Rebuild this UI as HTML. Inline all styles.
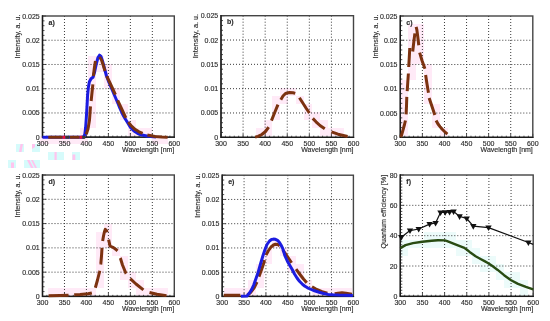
<!DOCTYPE html><html><head><meta charset="utf-8"><style>html,body{margin:0;padding:0;background:#fff;}svg{display:block;will-change:transform;filter:blur(0.35px);} text{fill:#2e2e2e;stroke:#2e2e2e;stroke-width:0.15px;}</style></head><body>
<svg width="550" height="321" viewBox="0 0 550 321" font-family='"Liberation Sans", sans-serif' font-size="7" fill="#222">
<rect width="550" height="321" fill="#fff"/>
<path d="M40 136h8v8h-8zM48 136h8v8h-8zM48 288h8v8h-8zM56 136h8v8h-8zM56 288h8v8h-8zM64 136h8v8h-8zM64 288h8v8h-8zM72 136h8v8h-8zM72 288h8v8h-8zM80 128h8v8h-8zM80 136h8v8h-8zM80 288h8v8h-8zM88 56h8v8h-8zM88 64h8v8h-8zM88 72h8v8h-8zM88 80h8v8h-8zM88 88h8v8h-8zM88 96h8v8h-8zM88 104h8v8h-8zM88 112h8v8h-8zM88 120h8v8h-8zM88 288h8v8h-8zM96 56h8v8h-8zM96 64h8v8h-8zM96 232h8v8h-8zM96 240h8v8h-8zM96 248h8v8h-8zM96 256h8v8h-8zM96 264h8v8h-8zM96 272h8v8h-8zM96 280h8v8h-8zM104 64h8v8h-8zM104 72h8v8h-8zM104 80h8v8h-8zM104 224h8v8h-8zM104 232h8v8h-8zM104 240h8v8h-8zM112 88h8v8h-8zM112 96h8v8h-8zM112 248h8v8h-8zM120 104h8v8h-8zM120 112h8v8h-8zM120 256h8v8h-8zM120 264h8v8h-8zM120 272h8v8h-8zM128 120h8v8h-8zM128 128h8v8h-8zM128 272h8v8h-8zM128 280h8v8h-8zM136 128h8v8h-8zM136 280h8v8h-8zM136 288h8v8h-8zM144 128h8v8h-8zM144 288h8v8h-8zM152 136h8v8h-8zM152 288h8v8h-8zM160 136h8v8h-8zM160 288h8v8h-8zM224 288h8v8h-8zM232 288h8v8h-8zM240 288h8v8h-8zM248 280h8v8h-8zM248 288h8v8h-8zM256 128h8v8h-8zM256 264h8v8h-8zM256 272h8v8h-8zM256 280h8v8h-8zM264 120h8v8h-8zM264 128h8v8h-8zM264 248h8v8h-8zM264 256h8v8h-8zM272 96h8v8h-8zM272 104h8v8h-8zM272 112h8v8h-8zM272 240h8v8h-8zM280 88h8v8h-8zM280 96h8v8h-8zM280 248h8v8h-8zM288 88h8v8h-8zM288 256h8v8h-8zM288 264h8v8h-8zM296 96h8v8h-8zM296 264h8v8h-8zM296 272h8v8h-8zM304 104h8v8h-8zM304 112h8v8h-8zM304 280h8v8h-8zM312 112h8v8h-8zM312 120h8v8h-8zM312 288h8v8h-8zM320 120h8v8h-8zM320 128h8v8h-8zM320 288h8v8h-8zM328 128h8v8h-8zM328 288h8v8h-8zM336 128h8v8h-8zM336 288h8v8h-8zM344 288h8v8h-8zM400 80h8v8h-8zM400 88h8v8h-8zM400 96h8v8h-8zM400 104h8v8h-8zM400 112h8v8h-8zM400 120h8v8h-8zM400 128h8v8h-8zM408 24h8v8h-8zM408 32h8v8h-8zM408 40h8v8h-8zM408 48h8v8h-8zM408 56h8v8h-8zM408 64h8v8h-8zM408 72h8v8h-8zM416 24h8v8h-8zM416 32h8v8h-8zM416 40h8v8h-8zM416 48h8v8h-8zM416 56h8v8h-8zM424 64h8v8h-8zM424 72h8v8h-8zM424 80h8v8h-8zM424 88h8v8h-8zM424 96h8v8h-8zM432 104h8v8h-8zM432 112h8v8h-8zM432 120h8v8h-8zM440 128h8v8h-8z" fill="#ffeaf7"/>
<rect x="16" y="144" width="8" height="8" fill="#d6fbfb"/>
<path d="M20.5 144h2.5l-1.5 8h-2.5z" fill="#ffc4ee"/>
<rect x="32" y="144" width="8" height="8" fill="#d6fbfb"/>
<path d="M32 144h3v3l-3 2z" fill="#ffc4ee"/>
<rect x="8" y="160" width="8" height="8" fill="#d6fbfb"/>
<rect x="11" y="162.5" width="3" height="5.5" fill="#ffc4ee"/>
<rect x="24" y="160" width="16" height="8" fill="#d6fbfb"/>
<path d="M27 160h2.5l4 8h-2.5z" fill="#ffc4ee"/>
<path d="M31 160h2l4 8h-2z" fill="#ffc4ee"/>
<rect x="48" y="152" width="16" height="8" fill="#d6fbfb"/>
<rect x="54.5" y="152" width="2.2" height="8" fill="#ffc4ee"/>
<rect x="72" y="152" width="8" height="8" fill="#d6fbfb"/>
<rect x="72.5" y="154.5" width="2.8" height="5.5" fill="#ffc4ee"/>
<path d="M400 240h8v8h-8zM400 248h8v8h-8zM408 240h8v8h-8zM416 240h8v8h-8zM424 232h8v8h-8zM424 240h8v8h-8zM432 232h8v8h-8zM432 240h8v8h-8zM440 232h8v8h-8zM440 240h8v8h-8zM448 232h8v8h-8zM448 240h8v8h-8zM456 240h8v8h-8zM456 248h8v8h-8zM464 240h8v8h-8zM464 248h8v8h-8zM472 248h8v8h-8zM472 256h8v8h-8zM480 256h8v8h-8zM480 264h8v8h-8zM488 256h8v8h-8zM488 264h8v8h-8zM496 264h8v8h-8zM496 272h8v8h-8zM504 272h8v8h-8zM504 280h8v8h-8zM512 272h8v8h-8zM512 280h8v8h-8zM520 280h8v8h-8zM520 288h8v8h-8z" fill="#ecfbfa"/>
<path d="M64.47 16V137.2M86.43 16V137.2M108.4 16V137.2M130.37 16V137.2M152.33 16V137.2M42.5 112.96H174.3M42.5 88.72H174.3M42.5 64.48H174.3M42.5 40.24H174.3" stroke="#3a3a3a" stroke-width="1" stroke-dasharray="1 2" fill="none"/>
<path d="M42.5 137.2h3.5M42.5 132.35h2M42.5 127.5h2M42.5 122.66h2M42.5 117.81h2M42.5 112.96h3.5M42.5 108.11h2M42.5 103.26h2M42.5 98.42h2M42.5 93.57h2M42.5 88.72h3.5M42.5 83.87h2M42.5 79.02h2M42.5 74.18h2M42.5 69.33h2M42.5 64.48h3.5M42.5 59.63h2M42.5 54.78h2M42.5 49.94h2M42.5 45.09h2M42.5 40.24h3.5M42.5 35.39h2M42.5 30.54h2M42.5 25.7h2M42.5 20.85h2M42.5 16h3.5M42.5 137.2v-3.5M46.89 137.2v-1.6M51.29 137.2v-1.6M55.68 137.2v-1.6M60.07 137.2v-1.6M64.47 137.2v-3.5M68.86 137.2v-1.6M73.25 137.2v-1.6M77.65 137.2v-1.6M82.04 137.2v-1.6M86.43 137.2v-3.5M90.83 137.2v-1.6M95.22 137.2v-1.6M99.61 137.2v-1.6M104.01 137.2v-1.6M108.4 137.2v-3.5M112.79 137.2v-1.6M117.19 137.2v-1.6M121.58 137.2v-1.6M125.97 137.2v-1.6M130.37 137.2v-3.5M134.76 137.2v-1.6M139.15 137.2v-1.6M143.55 137.2v-1.6M147.94 137.2v-1.6M152.33 137.2v-3.5M156.73 137.2v-1.6M161.12 137.2v-1.6M165.51 137.2v-1.6M169.91 137.2v-1.6M174.3 137.2v-3.5" stroke="#222" stroke-width="0.8" fill="none"/>
<rect x="42.5" y="16" width="131.8" height="121.2" fill="none" stroke="#444" stroke-width="1.4"/>
<path d="M42.5 15.3V137.2H175" fill="none" stroke="#1a1a1a" stroke-width="1.3"/>
<text x="39.7" y="139.7" text-anchor="end">0</text>
<text x="39.7" y="115.46" text-anchor="end">0.005</text>
<text x="39.7" y="91.22" text-anchor="end">0.01</text>
<text x="39.7" y="66.98" text-anchor="end">0.015</text>
<text x="39.7" y="42.74" text-anchor="end">0.02</text>
<text x="39.7" y="18.5" text-anchor="end">0.025</text>
<text x="42.5" y="145.6" text-anchor="middle">300</text>
<text x="64.47" y="145.6" text-anchor="middle">350</text>
<text x="86.43" y="145.6" text-anchor="middle">400</text>
<text x="108.4" y="145.6" text-anchor="middle">450</text>
<text x="130.37" y="145.6" text-anchor="middle">500</text>
<text x="152.33" y="145.6" text-anchor="middle">550</text>
<text x="174.3" y="145.6" text-anchor="middle">600</text>
<text x="174.3" y="151.8" text-anchor="end">Wavelength [nm]</text>
<text transform="translate(19.9,14.4) rotate(-90)" text-anchor="end" font-size="7.2">Intensity, a. u.</text>
<text x="48.5" y="24.6" font-weight="bold">a)</text>
<path d="M42.5 137.2 L48 137.2 L83.5 137.2 L84.8 134.5 L85.6 128 L86.3 118 L86.8 110 L87.6 95 L88.3 88 L89.3 82 L91 78.8 L93 77.3 L94.6 72 L96.5 63 L98 57.5 L99.5 55.2 L101 56.5 L102.5 61 L104.5 68.5 L106.5 76 L109 82.5 L112 89.5 L115 96.5 L118 103.5 L120 108.5 L122.5 114 L125 118.5 L127.5 122.5 L130.5 127.5 L134 131 L137.5 133.3 L141 134.8 L148 136.3 L156 137.1" stroke="#1c1ce0" stroke-width="3" fill="none" stroke-linejoin="round"/>
<path d="M44 137.2 L84 137.2 L86 135 L88 129 L89.5 120 L90.6 105 L91.1 101.4 L92.9 84 L93.3 76.4 L94.5 67 L95.5 60.5 L97.3 56.5 L99.3 56.7 L101.5 60 L103.5 66 L105 71 L106.7 76 L110 83 L113 89.5 L115.6 95 L117.5 100 L121 107.5 L124 114 L126 118.2 L128 121.8 L131 125.5 L135 129.3 L139 131.8 L143 133.6 L147 135 L155 136.4 L162 137 L168 137.3" stroke="#7c3210" stroke-width="3" fill="none" stroke-linejoin="round" stroke-dasharray="0.00 4.30 14.20 7.40 9.70 8.18 28.28 5.43 16.69 8.41 15.25 7.20 15.18 5.35 20.44 6.15 19.29 4.92 18.58 5.04 20.35 290.75"/>
<path d="M65.3 137.2H69.5M82.2 137.2H85.2" stroke="#3a3a30" stroke-width="3"/>
<path d="M62.6 137.2H65.3M79.7 137.2H82.2" stroke="#f01030" stroke-width="3"/>
<path d="M243.08 15.7V137.3M265.17 15.7V137.3M287.25 15.7V137.3M309.33 15.7V137.3M331.42 15.7V137.3M221 112.98H353.5M221 88.66H353.5M221 64.34H353.5M221 40.02H353.5" stroke="#3a3a3a" stroke-width="1" stroke-dasharray="1 2" fill="none"/>
<path d="M221 137.3h3.5M221 132.44h2M221 127.57h2M221 122.71h2M221 117.84h2M221 112.98h3.5M221 108.12h2M221 103.25h2M221 98.39h2M221 93.52h2M221 88.66h3.5M221 83.8h2M221 78.93h2M221 74.07h2M221 69.2h2M221 64.34h3.5M221 59.48h2M221 54.61h2M221 49.75h2M221 44.88h2M221 40.02h3.5M221 35.16h2M221 30.29h2M221 25.43h2M221 20.56h2M221 15.7h3.5M221 137.3v-3.5M225.42 137.3v-1.6M229.83 137.3v-1.6M234.25 137.3v-1.6M238.67 137.3v-1.6M243.08 137.3v-3.5M247.5 137.3v-1.6M251.92 137.3v-1.6M256.33 137.3v-1.6M260.75 137.3v-1.6M265.17 137.3v-3.5M269.58 137.3v-1.6M274 137.3v-1.6M278.42 137.3v-1.6M282.83 137.3v-1.6M287.25 137.3v-3.5M291.67 137.3v-1.6M296.08 137.3v-1.6M300.5 137.3v-1.6M304.92 137.3v-1.6M309.33 137.3v-3.5M313.75 137.3v-1.6M318.17 137.3v-1.6M322.58 137.3v-1.6M327 137.3v-1.6M331.42 137.3v-3.5M335.83 137.3v-1.6M340.25 137.3v-1.6M344.67 137.3v-1.6M349.08 137.3v-1.6M353.5 137.3v-3.5" stroke="#222" stroke-width="0.8" fill="none"/>
<rect x="221" y="15.7" width="132.5" height="121.6" fill="none" stroke="#444" stroke-width="1.4"/>
<path d="M221 15V137.3H354.2" fill="none" stroke="#1a1a1a" stroke-width="1.3"/>
<text x="218.2" y="139.8" text-anchor="end">0</text>
<text x="218.2" y="115.48" text-anchor="end">0.005</text>
<text x="218.2" y="91.16" text-anchor="end">0.01</text>
<text x="218.2" y="66.84" text-anchor="end">0.015</text>
<text x="218.2" y="42.52" text-anchor="end">0.02</text>
<text x="218.2" y="18.2" text-anchor="end">0.025</text>
<text x="221" y="145.7" text-anchor="middle">300</text>
<text x="243.08" y="145.7" text-anchor="middle">350</text>
<text x="265.17" y="145.7" text-anchor="middle">400</text>
<text x="287.25" y="145.7" text-anchor="middle">450</text>
<text x="309.33" y="145.7" text-anchor="middle">500</text>
<text x="331.42" y="145.7" text-anchor="middle">550</text>
<text x="353.5" y="145.7" text-anchor="middle">600</text>
<text x="353.5" y="151.9" text-anchor="end">Wavelength [nm]</text>
<text transform="translate(198.4,14.1) rotate(-90)" text-anchor="end" font-size="7.2">Intensity, a. u.</text>
<text x="227" y="24.3" font-weight="bold">b)</text>
<path d="M254.7 137.2 L258 136.4 L261.8 134.5 L265.5 131.5 L268.9 126.9 L271.3 121 L274.5 113 L278.1 104.3 L280.6 100 L283 96 L285.5 93.5 L289.4 92.5 L293 92.7 L295.6 93.5 L299.2 97.4 L302.5 102.5 L306 108 L309.5 113.2 L312.5 118.1 L316 121.8 L320 125.5 L325.1 129 L331.1 131.7 L338 134.2 L348 136.6" stroke="#7c3210" stroke-width="3" fill="none" stroke-linejoin="round" stroke-dasharray="0.00 0.45 17.28 7.17 17.23 5.77 17.75 6.11 18.22 6.39 15.93 7.38 16.82 186.90"/>
<path d="M422.38 16V137.3M444.47 16V137.3M466.55 16V137.3M488.63 16V137.3M510.72 16V137.3M400.3 113.04H532.8M400.3 88.78H532.8M400.3 64.52H532.8M400.3 40.26H532.8" stroke="#3a3a3a" stroke-width="1" stroke-dasharray="1 2" fill="none"/>
<path d="M400.3 137.3h3.5M400.3 132.45h2M400.3 127.6h2M400.3 122.74h2M400.3 117.89h2M400.3 113.04h3.5M400.3 108.19h2M400.3 103.34h2M400.3 98.48h2M400.3 93.63h2M400.3 88.78h3.5M400.3 83.93h2M400.3 79.08h2M400.3 74.22h2M400.3 69.37h2M400.3 64.52h3.5M400.3 59.67h2M400.3 54.82h2M400.3 49.96h2M400.3 45.11h2M400.3 40.26h3.5M400.3 35.41h2M400.3 30.56h2M400.3 25.7h2M400.3 20.85h2M400.3 16h3.5M400.3 137.3v-3.5M404.72 137.3v-1.6M409.13 137.3v-1.6M413.55 137.3v-1.6M417.97 137.3v-1.6M422.38 137.3v-3.5M426.8 137.3v-1.6M431.22 137.3v-1.6M435.63 137.3v-1.6M440.05 137.3v-1.6M444.47 137.3v-3.5M448.88 137.3v-1.6M453.3 137.3v-1.6M457.72 137.3v-1.6M462.13 137.3v-1.6M466.55 137.3v-3.5M470.97 137.3v-1.6M475.38 137.3v-1.6M479.8 137.3v-1.6M484.22 137.3v-1.6M488.63 137.3v-3.5M493.05 137.3v-1.6M497.47 137.3v-1.6M501.88 137.3v-1.6M506.3 137.3v-1.6M510.72 137.3v-3.5M515.13 137.3v-1.6M519.55 137.3v-1.6M523.97 137.3v-1.6M528.38 137.3v-1.6M532.8 137.3v-3.5" stroke="#222" stroke-width="0.8" fill="none"/>
<rect x="400.3" y="16" width="132.5" height="121.3" fill="none" stroke="#444" stroke-width="1.4"/>
<path d="M400.3 15.3V137.3H533.5" fill="none" stroke="#1a1a1a" stroke-width="1.3"/>
<text x="397.5" y="139.8" text-anchor="end">0</text>
<text x="397.5" y="115.54" text-anchor="end">0.005</text>
<text x="397.5" y="91.28" text-anchor="end">0.01</text>
<text x="397.5" y="67.02" text-anchor="end">0.015</text>
<text x="397.5" y="42.76" text-anchor="end">0.02</text>
<text x="397.5" y="18.5" text-anchor="end">0.025</text>
<text x="400.3" y="145.7" text-anchor="middle">300</text>
<text x="422.38" y="145.7" text-anchor="middle">350</text>
<text x="444.47" y="145.7" text-anchor="middle">400</text>
<text x="466.55" y="145.7" text-anchor="middle">450</text>
<text x="488.63" y="145.7" text-anchor="middle">500</text>
<text x="510.72" y="145.7" text-anchor="middle">550</text>
<text x="532.8" y="145.7" text-anchor="middle">600</text>
<text x="532.8" y="151.9" text-anchor="end">Wavelength [nm]</text>
<text transform="translate(377.7,14.4) rotate(-90)" text-anchor="end" font-size="7.2">Intensity, a. u.</text>
<text x="406.3" y="24.6" font-weight="bold">c)</text>
<path d="M400.5 137.2 L401.5 135.3 L403 130 L404.5 124.5 L405.5 120.3 L406.1 114.5 L406.5 106 L406.8 96.7 L407.2 91.3 L407.8 82 L408.4 73.3 L408.7 67.2 L409.3 57 L409.8 47.8 L411.3 49.8 L412.7 51.7 L413.8 42 L414.9 33.2 L415.6 29 L416.1 26.8 L416.8 29.5 L417.8 37 L418.8 45.5 L419.2 49 L419.6 52.5 L422 60.5 L425 68.9 L425.6 74.9 L427 84 L428.5 92.9 L429.1 97.8 L432 106.5 L434.9 115.1 L436 120.3 L438 124 L440 126.6 L442 129 L444.5 131.5 L447.5 134.3" stroke="#7c3210" stroke-width="3" fill="none" stroke-linejoin="round" stroke-dasharray="0.00 0.20 17.27 6.23 17.41 5.81 17.64 6.51 19.03 5.26 18.23 6.91 18.51 7.45 16.87 6.43 17.83 5.34 17.85 5.72 17.85 284.56"/>
<path d="M64.47 175V296.45M86.43 175V296.45M108.4 175V296.45M130.37 175V296.45M152.33 175V296.45M42.5 272.16H174.3M42.5 247.87H174.3M42.5 223.58H174.3M42.5 199.29H174.3" stroke="#3a3a3a" stroke-width="1" stroke-dasharray="1 2" fill="none"/>
<path d="M42.5 296.45h3.5M42.5 291.59h2M42.5 286.73h2M42.5 281.88h2M42.5 277.02h2M42.5 272.16h3.5M42.5 267.3h2M42.5 262.44h2M42.5 257.59h2M42.5 252.73h2M42.5 247.87h3.5M42.5 243.01h2M42.5 238.15h2M42.5 233.3h2M42.5 228.44h2M42.5 223.58h3.5M42.5 218.72h2M42.5 213.86h2M42.5 209.01h2M42.5 204.15h2M42.5 199.29h3.5M42.5 194.43h2M42.5 189.57h2M42.5 184.72h2M42.5 179.86h2M42.5 175h3.5M42.5 296.45v-3.5M46.89 296.45v-1.6M51.29 296.45v-1.6M55.68 296.45v-1.6M60.07 296.45v-1.6M64.47 296.45v-3.5M68.86 296.45v-1.6M73.25 296.45v-1.6M77.65 296.45v-1.6M82.04 296.45v-1.6M86.43 296.45v-3.5M90.83 296.45v-1.6M95.22 296.45v-1.6M99.61 296.45v-1.6M104.01 296.45v-1.6M108.4 296.45v-3.5M112.79 296.45v-1.6M117.19 296.45v-1.6M121.58 296.45v-1.6M125.97 296.45v-1.6M130.37 296.45v-3.5M134.76 296.45v-1.6M139.15 296.45v-1.6M143.55 296.45v-1.6M147.94 296.45v-1.6M152.33 296.45v-3.5M156.73 296.45v-1.6M161.12 296.45v-1.6M165.51 296.45v-1.6M169.91 296.45v-1.6M174.3 296.45v-3.5" stroke="#222" stroke-width="0.8" fill="none"/>
<rect x="42.5" y="175" width="131.8" height="121.45" fill="none" stroke="#444" stroke-width="1.4"/>
<path d="M42.5 174.3V296.45H175" fill="none" stroke="#1a1a1a" stroke-width="1.3"/>
<text x="39.7" y="298.95" text-anchor="end">0</text>
<text x="39.7" y="274.66" text-anchor="end">0.005</text>
<text x="39.7" y="250.37" text-anchor="end">0.01</text>
<text x="39.7" y="226.08" text-anchor="end">0.015</text>
<text x="39.7" y="201.79" text-anchor="end">0.02</text>
<text x="39.7" y="177.5" text-anchor="end">0.025</text>
<text x="42.5" y="304.85" text-anchor="middle">300</text>
<text x="64.47" y="304.85" text-anchor="middle">350</text>
<text x="86.43" y="304.85" text-anchor="middle">400</text>
<text x="108.4" y="304.85" text-anchor="middle">450</text>
<text x="130.37" y="304.85" text-anchor="middle">500</text>
<text x="152.33" y="304.85" text-anchor="middle">550</text>
<text x="174.3" y="304.85" text-anchor="middle">600</text>
<text x="174.3" y="311.05" text-anchor="end">Wavelength [nm]</text>
<text transform="translate(19.9,173.4) rotate(-90)" text-anchor="end" font-size="7.2">Intensity, a. u.</text>
<text x="48.5" y="183.6" font-weight="bold">d)</text>
<path d="M48 295.8 L60 295.4 L70 295.1 L80 294.5 L88 293.8 L92.5 292.8 L95 289 L97.5 280 L99.5 272 L100.8 264 L101.5 256 L102 248 L102.5 242 L103.5 236 L104.5 231.5 L105.3 229.4 L106.5 230.5 L107.5 233 L108.5 239 L110 246 L113.5 247.6 L116 249.5 L117.8 251.2 L119.3 256 L120.5 258.5 L122.5 265 L126 273.5 L130 278.5 L136 284 L143.5 290 L149 292.3 L157 294.3 L167 295.7" stroke="#7c3210" stroke-width="3" fill="none" stroke-linejoin="round" stroke-dasharray="0.00 0.61 19.90 5.69 17.83 6.48 17.45 6.42 16.75 6.75 15.49 7.54 15.63 7.63 16.77 6.53 17.28 6.61 17.32 259.19"/>
<path d="M244.07 175.2V296.45M265.93 175.2V296.45M287.8 175.2V296.45M309.67 175.2V296.45M331.53 175.2V296.45M222.2 272.2H353.4M222.2 247.95H353.4M222.2 223.7H353.4M222.2 199.45H353.4" stroke="#3a3a3a" stroke-width="1" stroke-dasharray="1 2" fill="none"/>
<path d="M222.2 296.45h3.5M222.2 291.6h2M222.2 286.75h2M222.2 281.9h2M222.2 277.05h2M222.2 272.2h3.5M222.2 267.35h2M222.2 262.5h2M222.2 257.65h2M222.2 252.8h2M222.2 247.95h3.5M222.2 243.1h2M222.2 238.25h2M222.2 233.4h2M222.2 228.55h2M222.2 223.7h3.5M222.2 218.85h2M222.2 214h2M222.2 209.15h2M222.2 204.3h2M222.2 199.45h3.5M222.2 194.6h2M222.2 189.75h2M222.2 184.9h2M222.2 180.05h2M222.2 175.2h3.5M222.2 296.45v-3.5M226.57 296.45v-1.6M230.95 296.45v-1.6M235.32 296.45v-1.6M239.69 296.45v-1.6M244.07 296.45v-3.5M248.44 296.45v-1.6M252.81 296.45v-1.6M257.19 296.45v-1.6M261.56 296.45v-1.6M265.93 296.45v-3.5M270.31 296.45v-1.6M274.68 296.45v-1.6M279.05 296.45v-1.6M283.43 296.45v-1.6M287.8 296.45v-3.5M292.17 296.45v-1.6M296.55 296.45v-1.6M300.92 296.45v-1.6M305.29 296.45v-1.6M309.67 296.45v-3.5M314.04 296.45v-1.6M318.41 296.45v-1.6M322.79 296.45v-1.6M327.16 296.45v-1.6M331.53 296.45v-3.5M335.91 296.45v-1.6M340.28 296.45v-1.6M344.65 296.45v-1.6M349.03 296.45v-1.6M353.4 296.45v-3.5" stroke="#222" stroke-width="0.8" fill="none"/>
<rect x="222.2" y="175.2" width="131.2" height="121.25" fill="none" stroke="#444" stroke-width="1.4"/>
<path d="M222.2 174.5V296.45H354.1" fill="none" stroke="#1a1a1a" stroke-width="1.3"/>
<text x="219.4" y="298.95" text-anchor="end">0</text>
<text x="219.4" y="274.7" text-anchor="end">0.005</text>
<text x="219.4" y="250.45" text-anchor="end">0.01</text>
<text x="219.4" y="226.2" text-anchor="end">0.015</text>
<text x="219.4" y="201.95" text-anchor="end">0.02</text>
<text x="219.4" y="177.7" text-anchor="end">0.025</text>
<text x="222.2" y="304.85" text-anchor="middle">300</text>
<text x="244.07" y="304.85" text-anchor="middle">350</text>
<text x="265.93" y="304.85" text-anchor="middle">400</text>
<text x="287.8" y="304.85" text-anchor="middle">450</text>
<text x="309.67" y="304.85" text-anchor="middle">500</text>
<text x="331.53" y="304.85" text-anchor="middle">550</text>
<text x="353.4" y="304.85" text-anchor="middle">600</text>
<text x="353.4" y="311.05" text-anchor="end">Wavelength [nm]</text>
<text transform="translate(199.6,173.6) rotate(-90)" text-anchor="end" font-size="7.2">Intensity, a. u.</text>
<text x="228.2" y="183.8" font-weight="bold">e)</text>
<path d="M223.3 295.3 L235 295.3 L240.7 295.3 L244 295.4 L247 295.3 L250.5 292.5 L254 288 L257.2 281.6 L258.8 277 L261.4 270 L263.3 264.5 L264.7 259.8 L265.8 255.5 L268.2 251 L271 247 L273.5 245 L275.5 244.2 L278 244.6 L280 246.2 L282.5 249.5 L285 253 L288.4 258 L291.8 263.1 L295.8 268.9 L300 274.5 L303.5 279 L307 283 L311.7 286.6 L316 289 L322 291.7 L327.7 293.4 L334.3 293.9 L338 293.2 L342 292.8 L346 293.2 L352.3 294.2" stroke="#7c3210" stroke-width="3" fill="none" stroke-linejoin="round" stroke-dasharray="0.00 0.40 16.60 7.10 16.54 5.67 17.39 5.24 19.63 4.94 15.68 7.85 17.22 6.72 16.65 7.42 17.38 232.83"/>
<path d="M241 296.2 L247 296 L249.5 293 L251.6 289.6 L253.7 285 L256 278.5 L258.1 272.4 L260.5 264 L263 255.5 L265.2 249 L267 244.5 L269.5 241 L271.5 239.5 L273.4 239.1 L275.5 239.3 L277.5 240.3 L279.5 242.5 L281 245 L282.7 248.4 L285 256 L287.5 261.5 L290 265.8 L292.5 270 L294.5 274 L297 278 L299.5 281.3 L302 283.8 L304.6 286 L307.5 287.8 L310.2 289 L314.5 290.8 L319.2 292.3 L323.5 293.5 L328.2 294.4 L333 294.8 L338.6 295.1 L352.8 295.5" stroke="#1c1ce0" stroke-width="3" fill="none" stroke-linejoin="round"/>
<path d="M422.45 175V296.35M444.6 175V296.35M466.75 175V296.35M488.9 175V296.35M511.05 175V296.35M400.3 266.01H533.2M400.3 235.68H533.2M400.3 205.34H533.2" stroke="#3a3a3a" stroke-width="1" stroke-dasharray="1 2" fill="none"/>
<path d="M400.3 296.35h3.5M400.3 293.32h2M400.3 290.28h2M400.3 287.25h2M400.3 284.22h2M400.3 281.18h2M400.3 278.15h2M400.3 275.11h2M400.3 272.08h2M400.3 269.05h2M400.3 266.01h3.5M400.3 262.98h2M400.3 259.94h2M400.3 256.91h2M400.3 253.88h2M400.3 250.84h2M400.3 247.81h2M400.3 244.78h2M400.3 241.74h2M400.3 238.71h2M400.3 235.68h3.5M400.3 232.64h2M400.3 229.61h2M400.3 226.57h2M400.3 223.54h2M400.3 220.51h2M400.3 217.47h2M400.3 214.44h2M400.3 211.41h2M400.3 208.37h2M400.3 205.34h3.5M400.3 202.3h2M400.3 199.27h2M400.3 196.24h2M400.3 193.2h2M400.3 190.17h2M400.3 187.13h2M400.3 184.1h2M400.3 181.07h2M400.3 178.03h2M400.3 175h3.5M400.3 296.35v-3.5M404.73 296.35v-1.6M409.16 296.35v-1.6M413.59 296.35v-1.6M418.02 296.35v-1.6M422.45 296.35v-3.5M426.88 296.35v-1.6M431.31 296.35v-1.6M435.74 296.35v-1.6M440.17 296.35v-1.6M444.6 296.35v-3.5M449.03 296.35v-1.6M453.46 296.35v-1.6M457.89 296.35v-1.6M462.32 296.35v-1.6M466.75 296.35v-3.5M471.18 296.35v-1.6M475.61 296.35v-1.6M480.04 296.35v-1.6M484.47 296.35v-1.6M488.9 296.35v-3.5M493.33 296.35v-1.6M497.76 296.35v-1.6M502.19 296.35v-1.6M506.62 296.35v-1.6M511.05 296.35v-3.5M515.48 296.35v-1.6M519.91 296.35v-1.6M524.34 296.35v-1.6M528.77 296.35v-1.6M533.2 296.35v-3.5" stroke="#222" stroke-width="0.8" fill="none"/>
<rect x="400.3" y="175" width="132.9" height="121.35" fill="none" stroke="#444" stroke-width="1.4"/>
<path d="M400.3 174.3V296.35H533.9" fill="none" stroke="#1a1a1a" stroke-width="1.3"/>
<text x="397.5" y="298.85" text-anchor="end">0</text>
<text x="397.5" y="268.51" text-anchor="end">20</text>
<text x="397.5" y="238.18" text-anchor="end">40</text>
<text x="397.5" y="207.84" text-anchor="end">60</text>
<text x="397.5" y="177.5" text-anchor="end">80</text>
<text x="400.3" y="304.75" text-anchor="middle">300</text>
<text x="422.45" y="304.75" text-anchor="middle">350</text>
<text x="444.6" y="304.75" text-anchor="middle">400</text>
<text x="466.75" y="304.75" text-anchor="middle">450</text>
<text x="488.9" y="304.75" text-anchor="middle">500</text>
<text x="511.05" y="304.75" text-anchor="middle">550</text>
<text x="533.2" y="304.75" text-anchor="middle">600</text>
<text x="533.2" y="310.95" text-anchor="end">Wavelength [nm]</text>
<text transform="translate(386,174.8) rotate(-90)" text-anchor="end" font-size="7.2">Quantum efficiency [%]</text>
<text x="406.3" y="183.6" font-weight="bold">f)</text>
<path d="M400.3 248.1 L405.5 245.1 L413 243.1 L422.3 241.7 L431.6 240.8 L438 240.3 L444.8 240.4 L447.2 241.1 L454.7 244.1 L463.7 247.6 L466.3 249.2 L469.6 251.9 L475.6 256.2 L481 259.2 L485 261.4 L488.3 263.2 L492.4 266.1 L497.7 269.9 L504.1 275.2 L511.1 280.3 L518 283.9 L525.9 286.9 L533.2 289.4" stroke="#284b12" stroke-width="2.4" fill="none" stroke-linejoin="round"/>
<path d="M400.5 238 L401.3 237.2 L410 230.6 L418.7 229 L429.6 224.1 L435.6 223 L440.5 212.5 L445.2 212.3 L449.6 212 L453.6 211.5 L459.6 216.4 L466.7 218.5 L473.3 226.2 L488.5 227.6 L528.4 242.5 L533.2 244.4" stroke="#111" stroke-width="1.2" fill="none" stroke-linejoin="round"/>
<path d="M398.1 235.1H404.5L401.3 240.7Z" fill="#111"/>
<path d="M406.8 228.5H413.2L410 234.1Z" fill="#111"/>
<path d="M415.5 226.9H421.9L418.7 232.5Z" fill="#111"/>
<path d="M426.4 222H432.8L429.6 227.6Z" fill="#111"/>
<path d="M432.4 220.9H438.8L435.6 226.5Z" fill="#111"/>
<path d="M437.3 210.4H443.7L440.5 216Z" fill="#111"/>
<path d="M442 210.2H448.4L445.2 215.8Z" fill="#111"/>
<path d="M446.4 209.9H452.8L449.6 215.5Z" fill="#111"/>
<path d="M450.4 209.4H456.8L453.6 215Z" fill="#111"/>
<path d="M456.4 214.3H462.8L459.6 219.9Z" fill="#111"/>
<path d="M463.5 216.4H469.9L466.7 222Z" fill="#111"/>
<path d="M470.1 224.1H476.5L473.3 229.7Z" fill="#111"/>
<path d="M485.3 225.5H491.7L488.5 231.1Z" fill="#111"/>
<path d="M525.2 240.4H531.6L528.4 246Z" fill="#111"/>
</svg></body></html>
